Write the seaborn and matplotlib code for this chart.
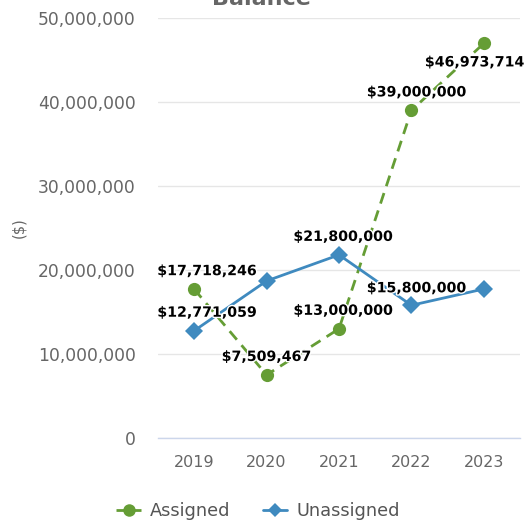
import matplotlib
matplotlib.use("Agg")
import matplotlib.pyplot as plt
import matplotlib.patheffects as pe
import seaborn as sns
import pandas as pd
from matplotlib.ticker import FuncFormatter

# Balance by year, in dollars
years = ["2019", "2020", "2021", "2022", "2023"]
assigned = [17718246, 7509467, 13000000, 39000000, 46973714]
unassigned = [12771059, 18700000, 21800000, 15800000, 17740000]

# Which points carry a value label: (year index, dx px, dy px)
assigned_labels = [(0, 13, 18), (1, 0, 18), (2, 4, 18), (3, 5, 18), (4, -9, -19)]
unassigned_labels = [(0, 13, 18), (2, 4, 18), (3, 5, 17)]

GREEN = "#659d35"
BLUE = "#3f8abf"

sns.set_theme(style="white")
plt.rcParams["font.family"] = ["DejaVu Sans"]

df = pd.DataFrame({
    "Year": years * 2,
    "Balance": assigned + unassigned,
    "Series": ["Assigned"] * len(years) + ["Unassigned"] * len(years),
})

dpi = 100
fig = plt.figure(figsize=(531 / dpi, 521 / dpi), dpi=dpi)
ax = fig.add_axes([158 / 531, 1 - 438 / 521, (520 - 158) / 531, (438 - 18) / 521])

sns.lineplot(
    data=df, x="Year", y="Balance", hue="Series", style="Series",
    palette={"Assigned": GREEN, "Unassigned": BLUE},
    markers={"Assigned": "o", "Unassigned": "D"},
    dashes={"Assigned": (4, 2.6), "Unassigned": ""},
    linewidth=2.0, markersize=9.5, markeredgewidth=0,
    sort=False, legend=False, ax=ax,
)

ax.set_xlim(-0.5, 4.5)
ax.set_ylim(0, 50_000_000)
ax.set_yticks(range(0, 50_000_001, 10_000_000))
ax.yaxis.set_major_formatter(FuncFormatter(lambda v, p: f"{int(v):,}"))

ax.grid(axis="y", color="#e6e6e6", linewidth=1)
ax.grid(axis="x", visible=False)
for side in ["left", "right", "top"]:
    ax.spines[side].set_visible(False)
ax.spines["bottom"].set_color("#ccd6eb")
ax.spines["bottom"].set_linewidth(1)

ax.tick_params(axis="y", length=0, pad=16, labelsize=12.3, labelcolor="#666666")
ax.tick_params(axis="x", length=0, pad=12, labelsize=11.5, labelcolor="#666666")
ax.set_xlabel("")
ax.set_ylabel("($)", fontsize=10.5, color="#666666")
ax.yaxis.set_label_coords(-(158 - 26) / 362, 0.5)

px = 72 / dpi


def label_points(values, spec):
    for i, dx, dy in spec:
        ax.annotate(
            f"${values[i]:,}", xy=(i, values[i]),
            xytext=(dx * px, dy * px), textcoords="offset points",
            ha="center", va="center", fontsize=10.2, fontweight="bold",
            color="#000000", annotation_clip=False, zorder=5,
            path_effects=[pe.withStroke(linewidth=2, foreground="white")],
        )


label_points(assigned, assigned_labels)
label_points(unassigned, unassigned_labels)

# Chart title, sitting mostly above the canvas edge
fig.text(261 / 531, 1 - 5 / 521, "Balance", ha="center", va="baseline",
         fontsize=16, fontweight="bold", color="#666666")

handles = [
    plt.Line2D([], [], color=GREEN, linestyle=(0, (4, 2.6)), linewidth=2.0,
               marker="o", markersize=9, markeredgewidth=0),
    plt.Line2D([], [], color=BLUE, linestyle="-", linewidth=2.0,
               marker="D", markersize=7.5, markeredgewidth=0),
]
fig.legend(handles, ["Assigned", "Unassigned"], loc="center",
           bbox_to_anchor=(258 / 531, 1 - 511 / 521), ncol=2, frameon=False,
           fontsize=12.8, labelcolor="#555555", handlelength=1.4,
           handletextpad=0.5, columnspacing=1.8)

fig.savefig("out.png", dpi=dpi)
